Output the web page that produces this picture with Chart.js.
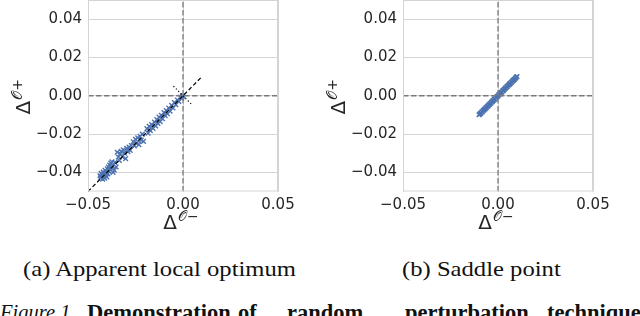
<!DOCTYPE html>
<html>
<head>
<meta charset="utf-8">
<script src="https://cdn.jsdelivr.net/npm/chart.js@4/dist/chart.umd.min.js"></script>
<style>
  html, body { margin: 0; padding: 0; background: #ffffff; }
  body { width: 640px; height: 316px; position: relative; overflow: hidden; }
  canvas { position: absolute; top: 0; }
  #cL { left: 0; }
  #cR { left: 320px; }
  .cap { position: absolute; font-family: "Liberation Serif", "Times New Roman", serif; color: #111; white-space: nowrap; transform-origin: 0 0; }
  .fig { font-size: 22.5px; top: 300px; font-weight: bold; }
</style>
</head>
<body>
<canvas id="cL" width="320" height="240"></canvas>
<canvas id="cR" width="320" height="240"></canvas>
<div class="cap" id="capA" style="font-size:22px; top:256px;">(a) Apparent local optimum</div>
<div class="cap" id="capB" style="font-size:22px; top:256px;">(b) Saddle point</div>
<div class="cap" style="font-size:20.5px; top:301px; left:0px; font-style:italic;">Figure 1.</div>
<div class="cap fig" style="left:87px;">Demonstration</div>
<div class="cap fig" style="left:238px;">of</div>
<div class="cap fig" style="left:287px;">random</div>
<div class="cap fig" style="left:405px;">perturbation</div>
<div class="cap fig" style="left:547px;">technique</div>
<script>
// ---------------- data ----------------
const axisMin = -0.05;
const axisMax = 0.05;
const xTicks = [-0.05, 0.00, 0.05];
const yTicks = [-0.04, -0.02, 0.00, 0.02, 0.04];

// (a) apparent local optimum: perturbation results
const localOptX = [
  -0.0437, -0.0434, -0.0431, -0.0428, -0.0426, -0.0423, -0.0420, -0.0418, -0.0415, -0.0412,
  -0.0410, -0.0407, -0.0404, -0.0401, -0.0398, -0.0395, -0.0392, -0.0389, -0.0386, -0.0383,
  -0.0380, -0.0377, -0.0374, -0.0371, -0.0368, -0.0362, -0.0358, -0.0352,
  -0.0346, -0.0340, -0.0335, -0.0330, -0.0325, -0.0320, -0.0314, -0.0308, -0.0302, -0.0296,
  -0.0290, -0.0284, -0.0278, -0.0272,
  -0.0262, -0.0256, -0.0250, -0.0244, -0.0238, -0.0232, -0.0226, -0.0220, -0.0214, -0.0208,
  -0.0190, -0.0184, -0.0178, -0.0172, -0.0165, -0.0158, -0.0150, -0.0144, -0.0138, -0.0132,
  -0.0126, -0.0120, -0.0114, -0.0108,
  -0.0100, -0.0094, -0.0088, -0.0082, -0.0075, -0.0068, -0.0060, -0.0053, -0.0045, -0.0038,
  -0.0030, -0.0022, -0.0014, -0.0007, 0.0000, -0.0003
];
const localOptY = [
  -0.0418, -0.0430, -0.0405, -0.0424, -0.0412, -0.0436, -0.0398, -0.0420, -0.0407, -0.0430,
  -0.0390, -0.0415, -0.0401, -0.0424, -0.0382, -0.0408, -0.0372, -0.0395, -0.0362, -0.0385,
  -0.0352, -0.0376, -0.0345, -0.0366, -0.0400, -0.0388, -0.0348, -0.0372,
  -0.0295, -0.0320, -0.0338, -0.0305, -0.0290, -0.0318, -0.0282, -0.0300, -0.0328, -0.0275,
  -0.0292, -0.0268, -0.0285, -0.0260,
  -0.0240, -0.0262, -0.0228, -0.0248, -0.0220, -0.0255, -0.0212, -0.0232, -0.0200, -0.0238,
  -0.0172, -0.0195, -0.0160, -0.0182, -0.0150, -0.0170, -0.0138, -0.0158, -0.0125, -0.0145,
  -0.0112, -0.0135, -0.0102, -0.0120,
  -0.0088, -0.0104, -0.0078, -0.0094, -0.0064, -0.0080, -0.0050, -0.0064, -0.0036, -0.0047,
  -0.0022, -0.0030, -0.0008, -0.0012, 0.0000, -0.0002
];

// (b) saddle point: perturbation results
const saddleX = [
  -0.0100, -0.0096, -0.0093, -0.0089, -0.0085, -0.0082, -0.0078, -0.0074, -0.0071, -0.0067,
  -0.0063, -0.0060, -0.0056, -0.0052, -0.0049, -0.0045, -0.0041, -0.0038, -0.0034, -0.0030,
  -0.0027, -0.0023, -0.0019, -0.0016, -0.0012, -0.0008, -0.0005, -0.0001, 0.0003, 0.0006,
  0.0010, 0.0014, 0.0017, 0.0021, 0.0025, 0.0028, 0.0032, 0.0036, 0.0039, 0.0043,
  0.0047, 0.0050, 0.0054, 0.0058, 0.0061, 0.0065, 0.0069, 0.0072, 0.0076, 0.0080,
  0.0083, 0.0087, 0.0091, 0.0094, 0.0098, 0.0100
];
const saddleY = [
  -0.0099, -0.0097, -0.0092, -0.0090, -0.0084, -0.0083, -0.0077, -0.0075, -0.0070, -0.0068,
  -0.0062, -0.0061, -0.0055, -0.0053, -0.0048, -0.0046, -0.0040, -0.0039, -0.0033, -0.0031,
  -0.0026, -0.0024, -0.0018, -0.0017, -0.0011, -0.0009, -0.0004, -0.0002, 0.0004, 0.0005,
  0.0011, 0.0013, 0.0018, 0.0020, 0.0026, 0.0027, 0.0033, 0.0035, 0.0040, 0.0042,
  0.0048, 0.0049, 0.0055, 0.0057, 0.0062, 0.0064, 0.0070, 0.0071, 0.0077, 0.0079,
  0.0084, 0.0086, 0.0092, 0.0093, 0.0099, 0.0101
];

// reference lines
const diagX = [-0.05, 0.01];
const diagY = [-0.05, 0.01];
const perpX = [-0.005, 0.005];
const perpY = [0.005, -0.005];
const hLineX = [-0.05, 0.05];
const hLineY = [0, 0];
const vLineX = [0, 0];
const vLineY = [-0.05, 0.05];

// ---------------- helpers ----------------
const zip = (xs, ys) => xs.map((x, i) => ({ x: x, y: ys[i] }));
const fmt = v => {
  const r = Math.round(v * 100) / 100;
  return (r < 0 ? '\u2212' : '') + Math.abs(r).toFixed(2);
};
const TICK_FONT = { family: '"DejaVu Sans", sans-serif', size: 15 };
const TEXT_COLOR = '#262626';
const GRID = '#d4d4d4';
const BLUE = '#4C72B0';

function drawDeltaLabel(ctx, x, y, sign, rotate) {
  ctx.save();
  ctx.translate(x, y);
  if (rotate) ctx.rotate(-Math.PI / 2);
  ctx.fillStyle = TEXT_COLOR;
  ctx.textBaseline = 'alphabetic';
  ctx.textAlign = 'left';
  ctx.font = '20px "DejaVu Sans"';
  const wD = ctx.measureText('\u0394').width;
  ctx.font = '14px "DejaVu Sans"';
  const sup = '\u{1D4AA}' + sign;
  const wS = ctx.measureText(sup).width;
  const total = wD + 1 + wS;
  ctx.font = '20px "DejaVu Sans"';
  ctx.fillText('\u0394', -total / 2, 0);
  ctx.font = '14px "DejaVu Sans"';
  ctx.fillText(sup, -total / 2 + wD + 1, -8);
  ctx.restore();
}

const framePlugin = {
  id: 'frameAndLabels',
  afterDraw(chart) {
    const ctx = chart.ctx, a = chart.chartArea;
    ctx.save();
    ctx.strokeStyle = GRID;
    ctx.lineWidth = 1;
    ctx.strokeRect(a.left + 0.5, a.top + 0.5, a.right - a.left - 1, a.bottom - a.top - 1);
    ctx.restore();
    const cx = (a.left + a.right) / 2;
    drawDeltaLabel(ctx, cx - 2, a.bottom + 37.5, '\u2212', false);
    drawDeltaLabel(ctx, a.left - 58, (a.top + a.bottom) / 2 + 1, '+', true);
  }
};

function makeChart(id, ptsX, ptsY, withGuides, padRight, yWidth, markerR) {
  const datasets = [];
  if (withGuides) {
    datasets.push({
      data: zip(diagX, diagY), showLine: true, pointRadius: 0, borderColor: '#000000',
      borderWidth: 1.2, borderDash: [4, 2.5], order: 0
    });
    datasets.push({
      data: zip(perpX, perpY), showLine: true, pointRadius: 0, borderColor: '#000000',
      borderWidth: 1.2, borderDash: [1.2, 2.2], order: 0
    });
  }
  datasets.push({
    data: zip(hLineX, hLineY), showLine: true, pointRadius: 0, borderColor: '#7a7a7a',
    borderWidth: 1.3, borderDash: [5.5, 2.5], order: 1
  });
  datasets.push({
    data: zip(vLineX, vLineY), showLine: true, pointRadius: 0, borderColor: '#7a7a7a',
    borderWidth: 1.3, borderDash: [5.5, 2.5], order: 1
  });
  datasets.push({
    data: zip(ptsX, ptsY), showLine: false, pointStyle: 'crossRot', pointRadius: markerR,
    pointBorderColor: BLUE, pointBackgroundColor: BLUE, pointBorderWidth: 1.4, order: 2
  });
  return new Chart(document.getElementById(id), {
    type: 'scatter',
    data: { datasets: datasets },
    options: {
      responsive: false, animation: false, devicePixelRatio: 1,
      layout: { autoPadding: false, padding: { left: 0, top: 0, right: padRight, bottom: 0 } },
      plugins: { legend: { display: false }, tooltip: { enabled: false } },
      scales: {
        x: {
          type: 'linear', min: axisMin, max: axisMax,
          afterBuildTicks: s => { s.ticks = xTicks.map(v => ({ value: v })); },
          afterFit: s => { s.height = 48.5; s.paddingLeft = 0; s.paddingRight = 0; },
          grid: { color: GRID, lineWidth: 1, drawTicks: false },
          border: { display: false },
          ticks: { font: TICK_FONT, color: TEXT_COLOR, padding: 5, maxRotation: 0, callback: v => fmt(v) }
        },
        y: {
          type: 'linear', min: axisMin, max: axisMax,
          afterBuildTicks: s => { s.ticks = yTicks.map(v => ({ value: v })); },
          afterFit: s => { s.width = yWidth; s.paddingTop = 0; s.paddingBottom = 0; },
          grid: { color: GRID, lineWidth: 1, drawTicks: false },
          border: { display: false },
          ticks: { font: TICK_FONT, color: TEXT_COLOR, padding: 6, callback: v => fmt(v) }
        }
      }
    },
    plugins: [framePlugin]
  });
}

makeChart('cL', localOptX, localOptY, true, 42, 88, 3.3);
makeChart('cR', saddleX, saddleY, false, 47, 83, 3.2);

// centre captions within each half
function centerCap(id, cx, sx) {
  const el = document.getElementById(id);
  const w = el.getBoundingClientRect().width;
  el.style.transform = 'scaleX(' + sx + ')';
  el.style.left = (cx - w * sx / 2) + 'px';
}
centerCap('capA', 160, 1.12);
centerCap('capB', 481, 1.12);
</script>
</body>
</html>
